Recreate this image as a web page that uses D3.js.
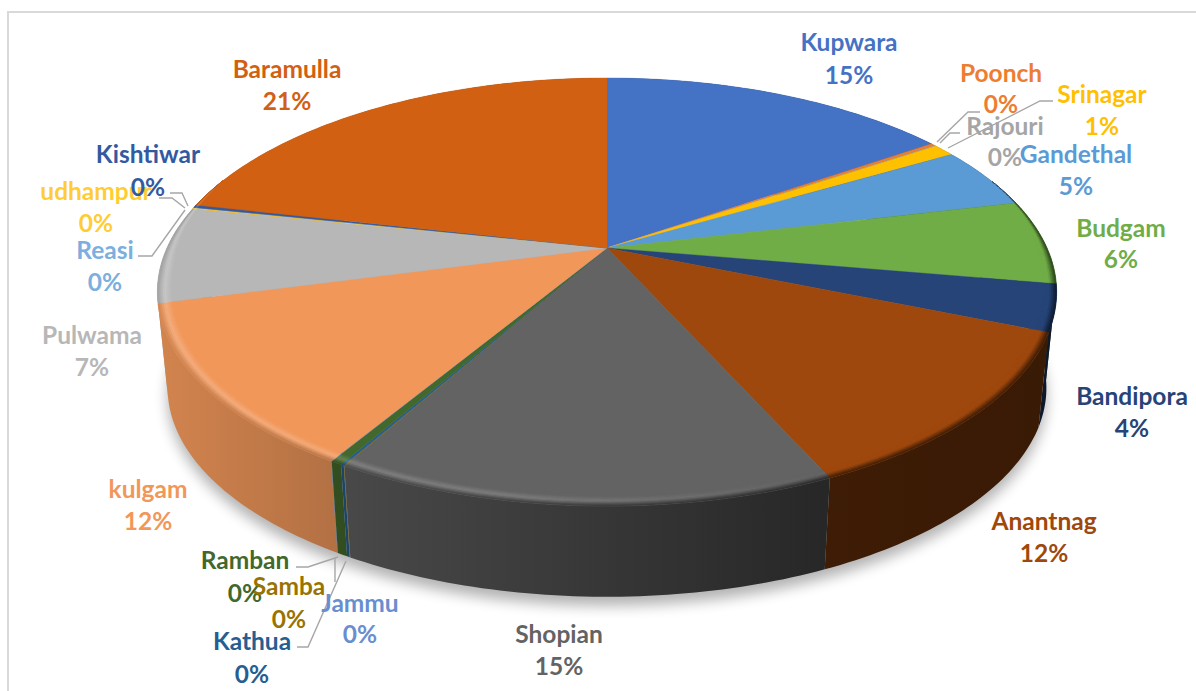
<!DOCTYPE html>
<html>
<head>
<meta charset="utf-8">
<script src="https://cdn.jsdelivr.net/npm/d3@7"></script>
<style>
  html, body { margin: 0; padding: 0; background: #fff; }
  svg { display: block; }
  text { font-family: Lato, "Open Sans", sans-serif; font-weight: 700; font-size: 24.5px; text-anchor: middle; dominant-baseline: central; }
</style>
</head>
<body>
<svg id="chart" width="1196" height="691"></svg>
<script>
const districts = ["Kupwara", "Poonch", "Rajouri", "Srinagar", "Gandethal", "Budgam", "Bandipora", "Anantnag", "Shopian",
  "Samba", "Kathua", "Ramban", "Jammu", "kulgam", "Pulwama", "udhampur", "Reasi", "Kishtiwar", "Baramulla"];
const shares = [15.4, 0.2, 0.05, 0.95, 4.7, 6.4, 3.5, 12.05, 14.9, 0.02, 0.1, 0.35, 0.02, 12.25, 7.3, 0.1, 0.02, 0.2, 21.49];
const sliceColors = ["#4472C4", "#ED7D31", "#A5A5A5", "#FFC000", "#5B9BD5", "#70AD47", "#264478", "#9E480E", "#636363",
  "#997300", "#255E91", "#43682B", "#698ED0", "#F1975A", "#B7B7B7", "#FFCD33", "#7CAFDD", "#335AA1", "#D26012"];

// label centres: name x, name y, percent y
const labelSpots = {
  Kupwara: [849, 41, 74], Poonch: [1001, 72, 103], Rajouri: [1005, 125, 156], Srinagar: [1102, 93, 125],
  Gandethal: [1076, 153, 185], Budgam: [1121, 227, 258], Bandipora: [1132, 395, 427], Anantnag: [1044, 520, 552],
  Shopian: [559, 633, 665], Samba: [289, 585, 618], Kathua: [252, 640, 673], Ramban: [245, 559, 592],
  Jammu: [360, 602, 633], kulgam: [148, 488, 520], Pulwama: [92, 334, 366], udhampur: [96, 190, 222],
  Reasi: [105, 249, 281], Kishtiwar: [148, 153, 186], Baramulla: [287, 68, 100]
};
const leaders = [
  [[937, 142], [968, 112], [980, 112]],
  [[940, 143], [950, 133], [960, 133]],
  [[948, 148], [1040, 101], [1053, 101]],
  [[188, 206], [182, 193], [170, 193]],
  [[185, 208], [172, 198], [159, 198]],
  [[185, 210], [152, 256], [138, 256]],
  [[338, 557], [308, 567], [296, 567]],
  [[335, 558], [335, 582]],
  [[346, 561], [308, 647], [297, 647]]
];

const svg = d3.select("#chart");
const defs = svg.append("defs");
defs.append("filter").attr("id", "soft").attr("x", "-10%").attr("y", "-10%").attr("width", "120%").attr("height", "130%")
  .append("feGaussianBlur").attr("stdDeviation", 7);

const CX = 607, PERSP = 0.2056;
const topRim = { cy: 248, a: 440, h: 205 };
const lowRim = { cy: 345, a: 430, h: 200 };
const BAND = 0.03, LAYERS = 8;

// circle point (clockwise from the back) to screen, with perspective toward the viewer
function project(angle, r, rim) {
  const X = Math.sin(angle) * r, Y = -Math.cos(angle) * r;
  const w = 1 / (1 - PERSP * Y);
  return [CX + rim.a * X * w, rim.cy + rim.h * Y * w];
}

const shadeX = [150, 340, 828, 1060];
const wallShade = d3.scaleLinear().domain(shadeX).range([0.88, 0.74, 0.39, 0.36]).clamp(true);
const glow = d3.scaleLinear().domain([150, 500, 830]).range([0.22, 0.18, 0]).clamp(true);
const backFade = d3.scaleLinear().domain([-0.35, 0.1]).range([0, 1]).clamp(true);
const line = d3.line();

function wallColor(base, x) {
  const c = d3.rgb(base), k = wallShade(x);
  return d3.rgb(c.r * k, c.g * k, c.b * k).formatHex();
}
function bevelColor(base, x, t) {
  const hl = d3.interpolateRgb(base, "#fff")(glow(x));
  return t < 0.5 ? d3.interpolateRgb(base, hl)(t * 2) : d3.interpolateRgb(hl, wallColor(base, x))((t - 0.5) * 2);
}
function angleSteps(d) {
  const n = Math.max(2, Math.ceil((d.endAngle - d.startAngle) / (Math.PI / 180)));
  return d3.range(n + 1).map((i) => d.startAngle + (d.endAngle - d.startAngle) * i / n);
}

const total = d3.sum(shares);
const pct = d3.format(".0%");
const slices = d3.pie().sort(null).value((d) => d)(shares);

// shadow under the lower rim
const allAngles = d3.range(0, 361, 3).map((a) => a * Math.PI / 180);
svg.append("path")
  .attr("d", line(allAngles.map((a) => project(a, 1, lowRim))) + "Z")
  .attr("transform", "translate(0,9)")
  .attr("fill", "#000").attr("opacity", 0.3)
  .attr("filter", "url(#soft)");

// frame
svg.append("path").attr("d", "M8,691V12H1196").attr("fill", "none").attr("stroke", "#d9d9d9").attr("stroke-width", 2);

const walls = svg.append("g");
const faces = svg.append("g");
const bevels = svg.append("g");

// walls go back to front so nearer slices cover the farther ones
const backToFront = d3.sort(slices, (d) => -Math.cos((d.startAngle + d.endAngle) / 2));
backToFront.forEach((d) => {
  const base = sliceColors[d.index];
  const steps = angleSteps(d);
  const grad = defs.append("linearGradient").attr("id", `wall${d.index}`)
    .attr("gradientUnits", "userSpaceOnUse")
    .attr("x1", shadeX[0]).attr("x2", shadeX[3]).attr("y1", 0).attr("y2", 0);
  grad.selectAll("stop").data(shadeX).join("stop")
    .attr("offset", (x) => (x - shadeX[0]) / (shadeX[3] - shadeX[0]))
    .attr("stop-color", (x) => wallColor(base, x));
  const outline = [...steps.map((a) => project(a, 1, topRim)), ...steps.slice().reverse().map((a) => project(a, 1, lowRim))];
  walls.append("path").attr("d", line(outline) + "Z").attr("fill", `url(#wall${d.index})`);
});

slices.forEach((d) => {
  const base = sliceColors[d.index];
  const steps = angleSteps(d);

  const rimPts = steps.map((a) => project(a, 1, topRim));
  faces.append("path")
    .attr("d", line([[CX, topRim.cy], ...rimPts]) + "Z")
    .attr("fill", base).attr("stroke", base).attr("stroke-width", 0.4);

  d3.pairs(steps).forEach(([a0, a1]) => {
    const fade = backFade(-Math.cos((a0 + a1) / 2));
    if (fade <= 0) return;
    d3.range(LAYERS).forEach((k) => {
      const r0 = 1 - BAND * fade * (1 - k / LAYERS);
      const r1 = 1 - BAND * fade * (1 - (k + 1) / LAYERS);
      const quad = [project(a0, r0, topRim), project(a1, r0, topRim), project(a1, r1, topRim), project(a0, r1, topRim)];
      const col = bevelColor(base, (quad[0][0] + quad[1][0]) / 2, (k + 0.5) / LAYERS);
      bevels.append("path").attr("d", line(quad) + "Z").attr("fill", col).attr("stroke", col).attr("stroke-width", 0.5);
    });
  });
});

svg.append("g").selectAll("path").data(leaders).join("path")
  .attr("d", (d) => line(d))
  .attr("fill", "none").attr("stroke", "#a6a6a6").attr("stroke-width", 1.4);

const labels = svg.append("g").selectAll("g").data(districts).join("g")
  .attr("fill", (d, i) => sliceColors[i]);
labels.append("text").attr("x", (d) => labelSpots[d][0]).attr("y", (d) => labelSpots[d][1]).text((d) => d);
labels.append("text").attr("x", (d) => labelSpots[d][0]).attr("y", (d) => labelSpots[d][2])
  .text((d, i) => pct(shares[i] / total));
labels.filter((d) => d === "Samba").raise();
</script>
</body>
</html>
